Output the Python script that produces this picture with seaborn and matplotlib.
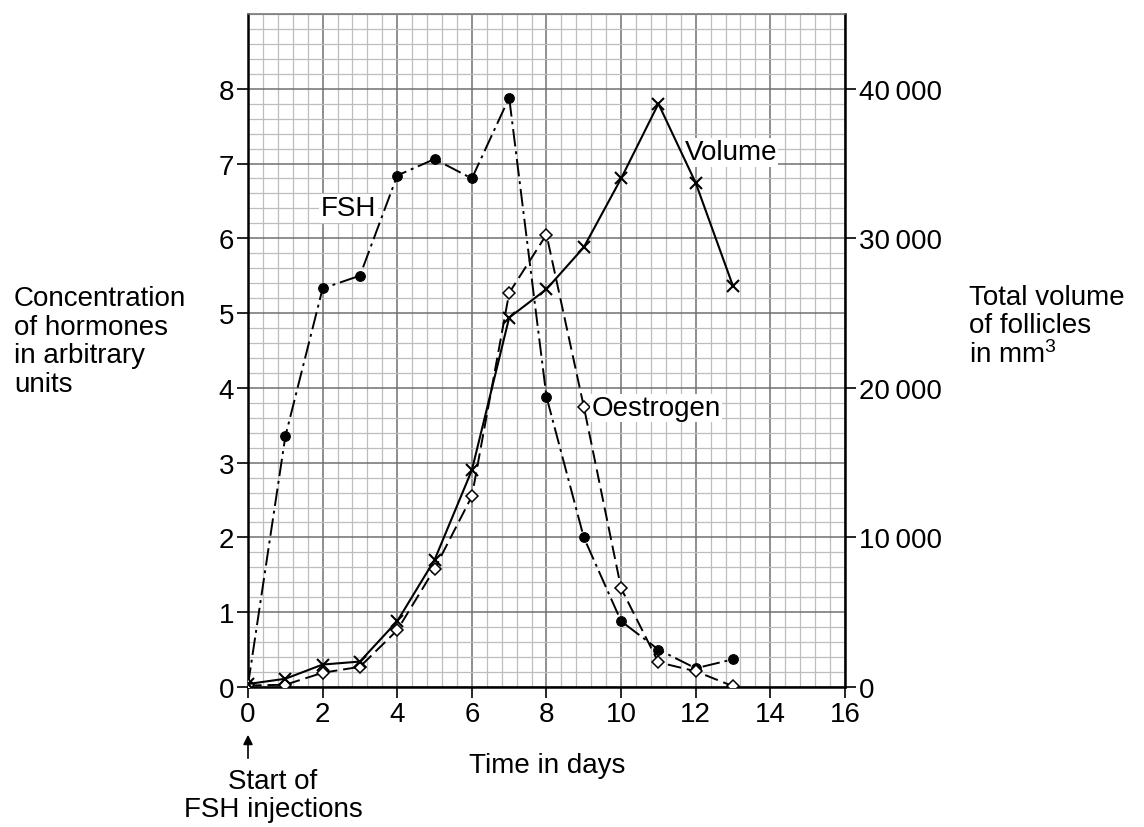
import numpy as np
import pandas as pd
import matplotlib
matplotlib.use('Agg')
import matplotlib.pyplot as plt
import seaborn as sns

days = list(range(14))
fsh = [0.03, 3.35, 5.33, 5.5, 6.84, 7.06, 6.8, 7.88, 3.88, 2.0, 0.88, 0.5, 0.25, 0.37]
oestrogen = [0.02, 0.03, 0.19, 0.27, 0.76, 1.58, 2.55, 5.27, 6.05, 3.75, 1.32, 0.33, 0.21, 0.01]
volume = [200, 550, 1500, 1700, 4400, 8500, 14500, 24700, 26600, 29400, 34000, 39000, 33700, 26800]

left_ticks = list(range(0, 9))
right_ticks = [0, 10000, 20000, 30000, 40000]
right_labels = ['0', '10\u2009000', '20\u2009000', '30\u2009000', '40\u2009000']
x_ticks = list(range(0, 17, 2))

sns.set_style('white')
plt.rcParams['font.family'] = ['Liberation Sans', 'DejaVu Sans']
plt.rcParams['font.size'] = 20
plt.rcParams['mathtext.fontset'] = 'custom'
plt.rcParams['mathtext.rm'] = 'Liberation Sans'
plt.rcParams['mathtext.default'] = 'rm'
plt.rcParams['text.color'] = 'black'
plt.rcParams['xtick.color'] = 'black'
plt.rcParams['ytick.color'] = 'black'
plt.rcParams['xtick.labelcolor'] = 'black'
plt.rcParams['ytick.labelcolor'] = 'black'

df = pd.DataFrame({'day': days, 'FSH': fsh, 'Oestrogen': oestrogen, 'Volume': volume})

fig = plt.figure(figsize=(11.44, 8.28), dpi=100)
ax = fig.add_axes([0.2168, 0.1691, 0.7386 - 0.2168, 0.8128])

ax.set_xlim(0, 16)
ax.set_ylim(0, 9)
ax.set_xticks(x_ticks)
ax.set_yticks(left_ticks)
ax.set_xticks(np.arange(0, 16.01, 0.4), minor=True)
ax.set_yticks(np.arange(0, 9.01, 0.2), minor=True)
ax.grid(which='minor', color='#bdbdbd', lw=0.9)
ax.grid(which='major', color='#707070', lw=1.1)
ax.set_axisbelow(True)
ax.tick_params(which='minor', length=0)
ax.tick_params(which='major', direction='out', length=8, width=1.2, color='black',
               labelsize=20, pad=2, left=True, bottom=True)
for s in ['left', 'bottom', 'right']:
    ax.spines[s].set_color('black')
    ax.spines[s].set_linewidth(1.8)
ax.spines['top'].set_color('#707070')
ax.spines['top'].set_linewidth(1.1)

sns.lineplot(data=df, x='day', y='FSH', ax=ax, color='black', lw=1.4,
             marker='o', markersize=7, markeredgecolor='black',
             dashes=False, zorder=4)
ax.lines[-1].set_dashes([9, 2.5, 1.5, 2.5])
sns.lineplot(data=df, x='day', y='Oestrogen', ax=ax, color='black', lw=1.4,
             marker='D', markersize=6, markerfacecolor='white', markeredgecolor='black',
             markeredgewidth=1.1, zorder=5)
ax.lines[-1].set_dashes([7, 3])
ax.set_xlabel('')
ax.set_ylabel('')

ax2 = ax.twinx()
ax2.set_ylim(0, 45000)
sns.lineplot(data=df, x='day', y='Volume', ax=ax2, color='black', lw=1.5,
             marker='x', markersize=9, markeredgewidth=1.5, markeredgecolor='black', zorder=4)
ax2.set_yticks(right_ticks)
ax2.set_yticklabels(right_labels)
ax2.set_ylabel('')
ax2.set_xlabel('')
ax2.tick_params(direction='out', length=8, width=1.2, color='black', labelsize=20, pad=2, right=True)
for s in ax2.spines.values():
    s.set_visible(False)
ax2.set_xlim(0, 16)

box = dict(facecolor='white', edgecolor='none', pad=1)
ax.text(1.95, 6.4, 'FSH', fontsize=20, bbox=box, va='center', zorder=6)
ax.text(11.7, 7.15, 'Volume', fontsize=20, bbox=box, va='center', zorder=6)
ax.text(9.2, 3.73, 'Oestrogen', fontsize=20, bbox=box, va='center', zorder=6)

fig.text(14 / 1144, 1 - 342 / 828, 'Concentration\nof hormones\nin arbitrary\nunits',
         ha='left', va='center', fontsize=20, linespacing=1.12)
fig.text(969 / 1144, 1 - 327 / 828, 'Total volume\nof follicles\nin mm$^3$',
         ha='left', va='center', fontsize=20, linespacing=1.12)
fig.text(547 / 1144, 1 - 766 / 828, 'Time in days', ha='center', va='center', fontsize=20)
fig.text(273 / 1144, 1 - 796 / 828, 'Start of\nFSH injections', ha='center', va='center',
         fontsize=20, linespacing=1.12)
ax.annotate('', xy=(248 / 1144, 1 - 733 / 828), xytext=(248 / 1144, 1 - 762 / 828),
            xycoords='figure fraction', textcoords='figure fraction',
            arrowprops=dict(arrowstyle='-|>', color='black', lw=1.2, mutation_scale=14))

fig.savefig('out.png', dpi=100, facecolor='white')
